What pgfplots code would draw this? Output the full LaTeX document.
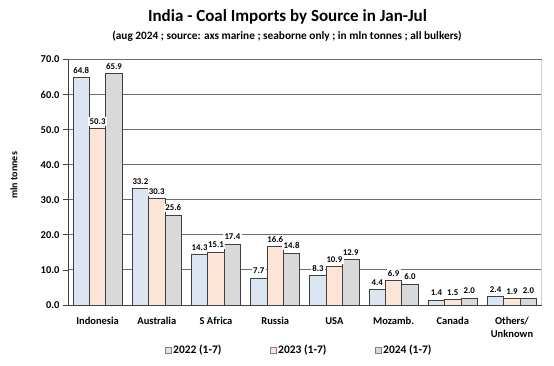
\documentclass[border=0pt]{standalone}
\usepackage{pgfplots}
\pgfplotsset{compat=1.18}
\usepackage{fontspec}
\setmainfont{Carlito}
\definecolor{cA}{HTML}{DCE6F2}
\definecolor{cB}{HTML}{FCE4D6}
\definecolor{cC}{HTML}{D9D9D9}
\definecolor{edge}{HTML}{404040}
\definecolor{gridc}{HTML}{6E6E6E}
\definecolor{framec}{HTML}{D0D0D0}
\begin{document}
\begin{tikzpicture}[x=1pt,y=1pt]
\useasboundingbox (0,0) rectangle (554,365);
\node[font=\fontsize{17}{19}\selectfont\bfseries] at (287.5,348) {India - Coal Imports by Source in Jan-Jul};
\node[font=\fontsize{11.3}{13}\selectfont\bfseries] at (287,329) {(aug 2024 ; source: axs marine ; seaborne only ; in mln tonnes ; all bulkers)};
\begin{axis}[
  at={(68pt,60pt)}, anchor=south west,
  scale only axis, width=473.6pt, height=245.5pt,
  xmin=-0.5, xmax=7.5, ymin=0, ymax=70,
  ybar=0pt, bar width=16.4pt,
  xtick={0,...,7},
  xticklabels={Indonesia, Australia, S Africa, Russia, USA, Mozamb., Canada, Others/\\Unknown},
  xticklabel style={align=center, font=\fontsize{10.5}{13}\selectfont\bfseries, anchor=north, yshift=-4pt},
  x tick style={draw=none},
  ytick={0,10,...,70},
  ytick pos=left,
  tick align=outside, major tick length=5pt,
  y tick style={edge, line width=0.8pt},
  yticklabel style={font=\fontsize{10.5}{12}\selectfont\bfseries, /pgf/number format/.cd, fixed, fixed zerofill, precision=1, assume math mode=true},
  axis x line*=bottom, axis y line*=left,
  axis line style={edge, line width=0.9pt},
  ymajorgrids, grid style={gridc, line width=0.9pt},
  ylabel={mln tonnes},
  every axis y label/.style={at={(axis description cs:-0.114,0.528)}, rotate=90, anchor=center, font=\fontsize{10}{12}\selectfont\bfseries},
  nodes near coords={\pgfmathprintnumber[fixed,fixed zerofill,precision=1,assume math mode=true]{\pgfplotspointmeta}},
  every node near coord/.append style={font=\fontsize{8.8}{10}\selectfont\bfseries, fill=white, inner sep=1.3pt, anchor=south, yshift=2.5pt, text=black},
  every axis plot/.append style={draw=edge, line width=0.9pt},
  after end axis/.code={\draw[framec, line width=0.9pt] (rel axis cs:1,0) -- (rel axis cs:1,1);},
  clip=false,
]
\addplot[fill=cA] coordinates {(0,64.8) (1,33.2) (2,14.3) (3,7.7) (4,8.3) (5,4.4) (6,1.4) (7,2.4)};
\addplot[fill=cB] coordinates {(0,50.3) (1,30.3) (2,15.1) (3,16.6) (4,10.9) (5,6.9) (6,1.5) (7,1.9)};
\addplot[fill=cC] coordinates {(0,65.9) (1,25.6) (2,17.4) (3,14.8) (4,12.9) (5,6.0) (6,2.0) (7,2.0)};
\end{axis}
\begin{scope}[font=\fontsize{11.5}{13}\selectfont\bfseries]
\draw[fill=cA, draw=gray, line width=0.5pt] (165,11.5) rectangle (171,17.5);
\node[anchor=west, inner sep=0pt] at (173,14.5) {2022 (1-7)};
\draw[fill=cB, draw=gray, line width=0.5pt] (270,11.5) rectangle (276,17.5);
\node[anchor=west, inner sep=0pt] at (278,14.5) {2023 (1-7)};
\draw[fill=cC, draw=gray, line width=0.5pt] (375,11.5) rectangle (381,17.5);
\node[anchor=west, inner sep=0pt] at (383,14.5) {2024 (1-7)};
\end{scope}
\end{tikzpicture}
\end{document}
